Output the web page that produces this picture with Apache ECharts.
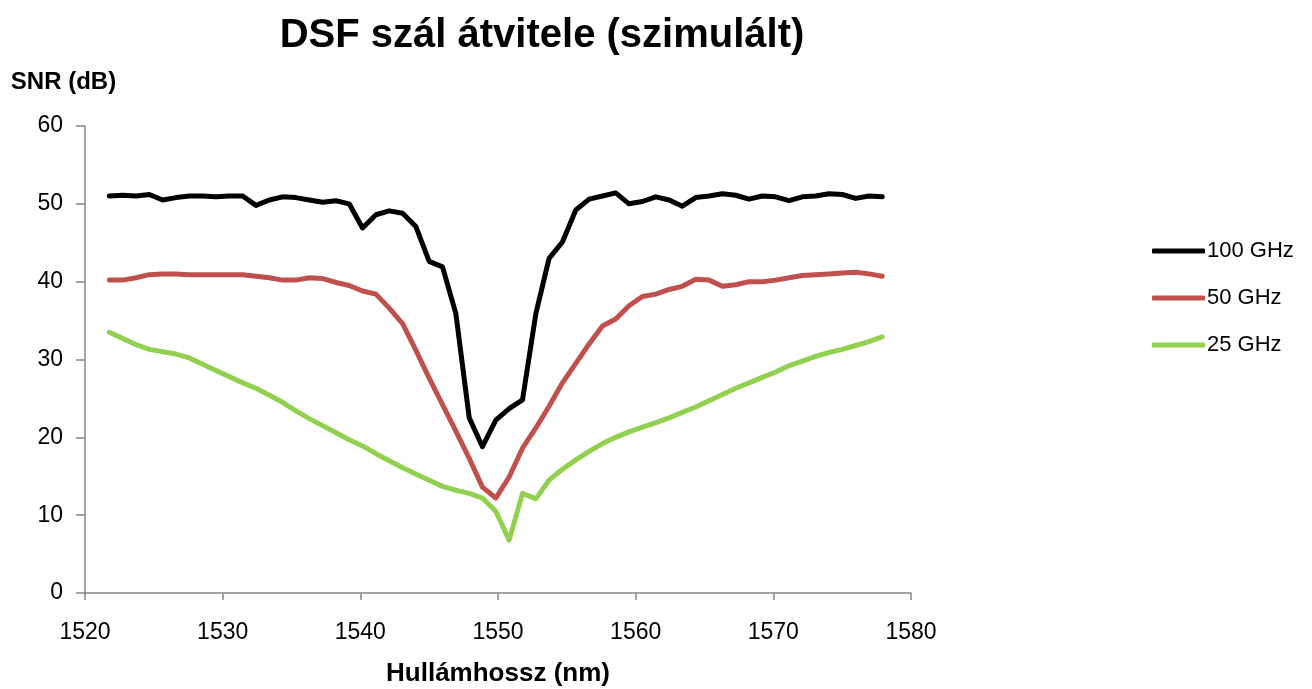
<!DOCTYPE html>
<html>
<head>
<meta charset="utf-8">
<script src="https://cdn.jsdelivr.net/npm/echarts@6/dist/echarts.min.js"></script>
<style>
  html, body { margin: 0; padding: 0; background: #ffffff; }
  #chart { width: 1312px; height: 689px; }
</style>
</head>
<body>
<div id="chart"></div>
<script>
// Wavelength grid (nm)
const wavelengths = [
  1521.77, 1522.74, 1523.71, 1524.67, 1525.64, 1526.61, 1527.58, 1528.55, 1529.51, 1530.48,
  1531.45, 1532.42, 1533.39, 1534.35, 1535.32, 1536.29, 1537.26, 1538.23, 1539.19, 1540.16,
  1541.13, 1542.10, 1543.07, 1544.03, 1545.00, 1545.97, 1546.94, 1547.91, 1548.87, 1549.84,
  1550.81, 1551.78, 1552.75, 1553.71, 1554.68, 1555.65, 1556.62, 1557.59, 1558.55, 1559.52,
  1560.49, 1561.46, 1562.43, 1563.39, 1564.36, 1565.33, 1566.30, 1567.27, 1568.23, 1569.20,
  1570.17, 1571.14, 1572.11, 1573.07, 1574.04, 1575.01, 1575.98, 1576.95, 1577.91
];

// SNR (dB) for each channel spacing
const snr100 = [
  51.0, 51.1, 51.0, 51.2, 50.5, 50.8, 51.0, 51.0, 50.9, 51.0,
  51.0, 49.8, 50.5, 50.9, 50.8, 50.5, 50.2, 50.4, 50.0, 46.9,
  48.6, 49.1, 48.8, 47.1, 42.6, 41.9, 35.9, 22.5, 18.8, 22.2,
  23.7, 24.8, 35.9, 43.0, 45.1, 49.2, 50.6, 51.0, 51.4, 50.0,
  50.3, 50.9, 50.5, 49.7, 50.8, 51.0, 51.3, 51.1, 50.6, 51.0,
  50.9, 50.4, 50.9, 51.0, 51.3, 51.2, 50.7, 51.0, 50.9
];
const snr50 = [
  40.2, 40.2, 40.5, 40.9, 41.0, 41.0, 40.9, 40.9, 40.9, 40.9,
  40.9, 40.7, 40.5, 40.2, 40.2, 40.5, 40.4, 39.9, 39.5, 38.8,
  38.4, 36.6, 34.6, 31.2, 27.6, 24.2, 20.8, 17.3, 13.6, 12.2,
  14.9, 18.6, 21.2, 24.0, 27.0, 29.5, 32.0, 34.3, 35.2, 36.9,
  38.1, 38.4, 39.0, 39.4, 40.3, 40.2, 39.4, 39.6, 40.0, 40.0,
  40.2, 40.5, 40.8, 40.9, 41.0, 41.1, 41.2, 41.0, 40.7
];
const snr25 = [
  33.5, 32.7, 31.9, 31.3, 31.0, 30.7, 30.2, 29.4, 28.6, 27.8,
  27.0, 26.3, 25.4, 24.5, 23.4, 22.4, 21.5, 20.6, 19.7, 18.9,
  17.9, 17.0, 16.1, 15.3, 14.5, 13.7, 13.2, 12.8, 12.2, 10.5,
  6.8, 12.8, 12.1, 14.5, 15.9, 17.1, 18.2, 19.2, 20.0, 20.7,
  21.3, 21.9, 22.5, 23.2, 23.9, 24.7, 25.5, 26.3, 27.0, 27.7,
  28.4, 29.2, 29.8, 30.4, 30.9, 31.3, 31.8, 32.3, 32.9
];

const seriesNames = ['100 GHz', '50 GHz', '25 GHz'];
const seriesColors = ['#000000', '#C0504D', '#92D050'];
const xTicks = { min: 1520, max: 1580, step: 10 };
const yTicks = { min: 0, max: 60, step: 10 };

const FONT = '"Liberation Sans", Arial, sans-serif';
const AXIS_GRAY = '#868686';

function pairs(xs, ys) {
  return xs.map((x, i) => [x, ys[i]]);
}

const chart = echarts.init(document.getElementById('chart'), null, { renderer: 'canvas' });

const lineSeries = [snr100, snr50, snr25].map((vals, k) => ({
  name: seriesNames[k],
  type: 'line',
  data: pairs(wavelengths, vals),
  showSymbol: false,
  symbol: 'none',
  smooth: false,
  lineStyle: { color: seriesColors[k], width: 5, cap: 'round', join: 'round' },
  itemStyle: { color: seriesColors[k] },
  z: 10 - k,
  animation: false
}));

chart.setOption({
  backgroundColor: '#ffffff',
  animation: false,
  title: {
    text: 'DSF szál átvitele (szimulált)',
    left: 537,
    top: 11,
    textAlign: 'center',
    textStyle: { fontFamily: FONT, fontWeight: 'bold', fontSize: 40, color: '#000000' }
  },
  legend: {
    orient: 'vertical',
    left: 1147,
    top: 235,
    itemWidth: 53,
    itemHeight: 5,
    itemGap: 25,
    icon: 'roundRect',
    data: seriesNames,
    textStyle: { fontFamily: FONT, fontSize: 22, color: '#000000', padding: [0, 0, 0, -3] }
  },
  grid: { left: 85, top: 126, width: 826, height: 467, containLabel: false, outerBoundsMode: 'none' },
  xAxis: {
    type: 'value',
    min: xTicks.min,
    max: xTicks.max,
    interval: xTicks.step,
    name: 'Hullámhossz (nm)',
    nameLocation: 'middle',
    nameGap: 68,
    nameTextStyle: { fontFamily: FONT, fontWeight: 'bold', fontSize: 26, color: '#000000' },
    axisLine: { lineStyle: { color: AXIS_GRAY, width: 1.5 } },
    axisTick: { show: true, length: 7, lineStyle: { color: AXIS_GRAY, width: 1.5 } },
    axisLabel: { fontFamily: FONT, fontSize: 23, color: '#000000', margin: 28, formatter: v => String(v) },
    splitLine: { show: false }
  },
  yAxis: {
    type: 'value',
    min: yTicks.min,
    max: yTicks.max,
    interval: yTicks.step,
    name: 'SNR (dB)',
    nameLocation: 'end',
    nameGap: 32,
    nameTextStyle: { fontFamily: FONT, fontWeight: 'bold', fontSize: 24, color: '#000000', align: 'center', padding: [0, 43, 0, 0] },
    axisLine: { show: true, lineStyle: { color: AXIS_GRAY, width: 1.5 } },
    axisTick: { show: true, length: 9, lineStyle: { color: AXIS_GRAY, width: 1.5 } },
    axisLabel: { fontFamily: FONT, fontSize: 23, color: '#000000', margin: 22, formatter: v => String(v) },
    splitLine: { show: false }
  },
  series: lineSeries
});
</script>
</body>
</html>
